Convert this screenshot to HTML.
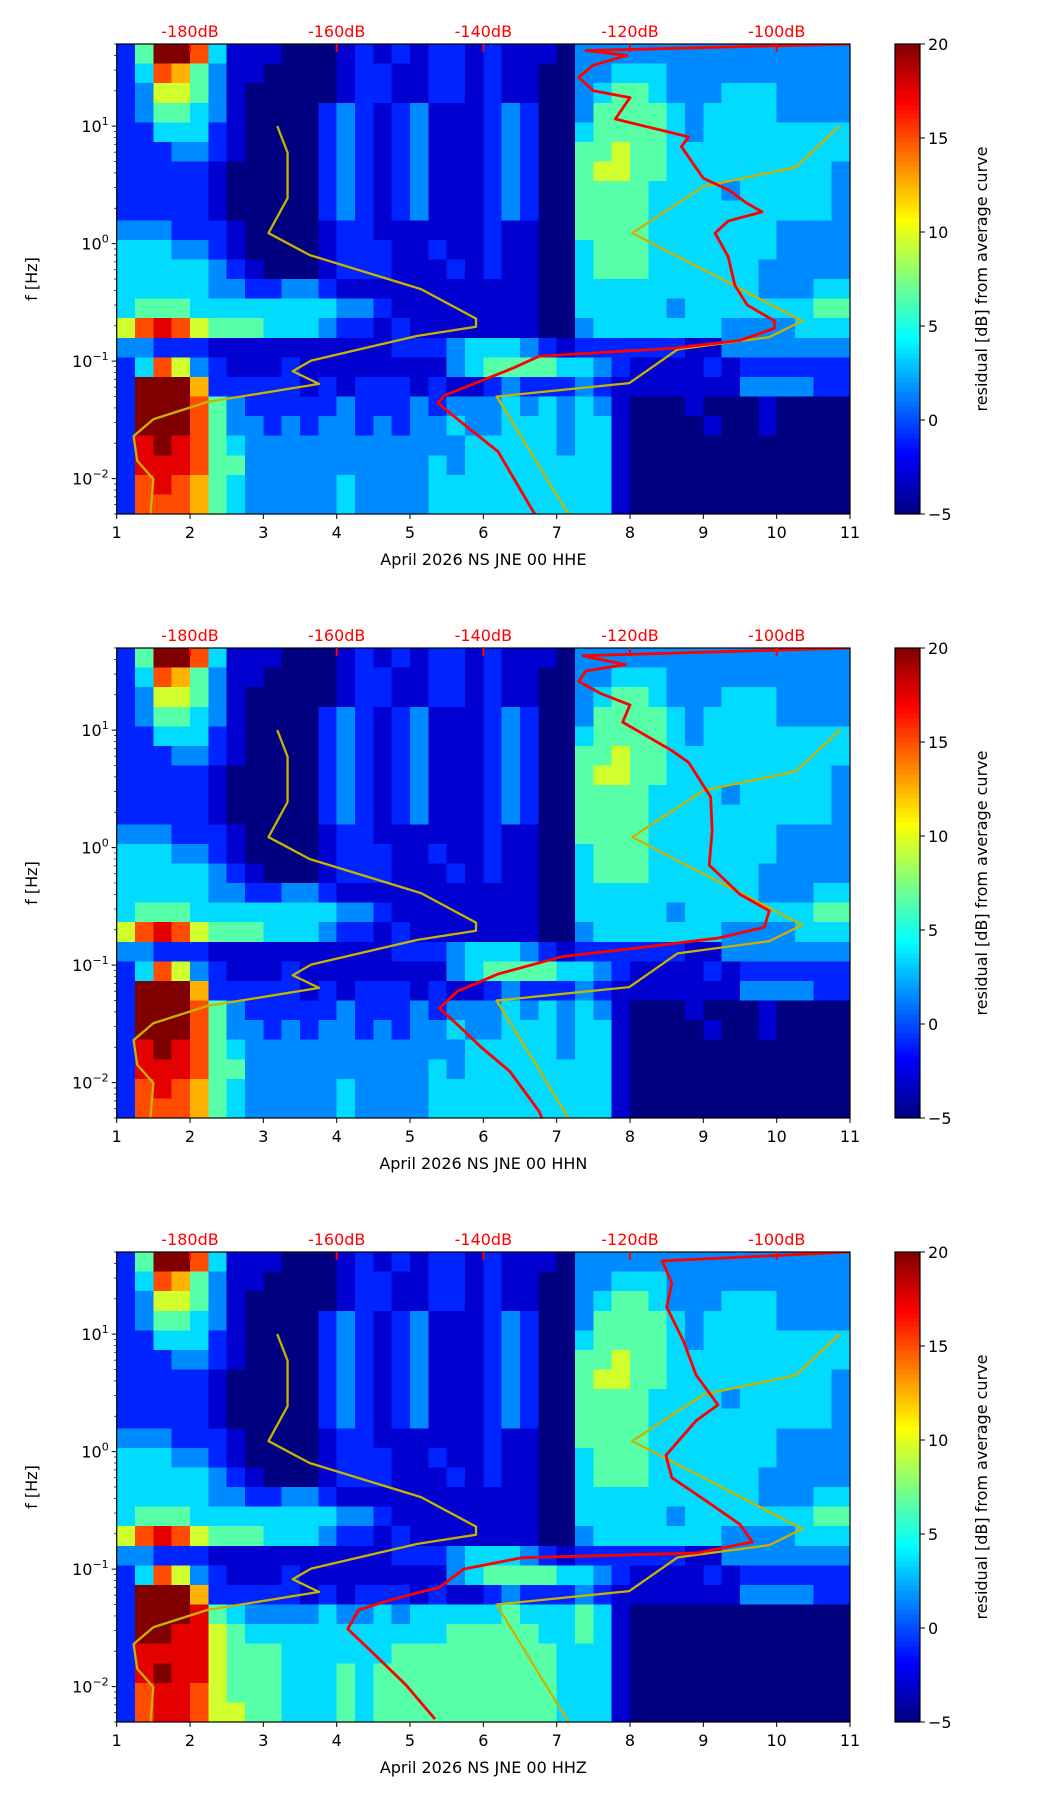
<!DOCTYPE html>
<html><head><meta charset="utf-8">
<style>
html,body{margin:0;padding:0;background:#fff;}
svg{display:block;font-family:"DejaVu Sans","Liberation Sans",sans-serif;}
</style></head>
<body>
<svg id="fig" width="1052" height="1806" viewBox="0 0 1052 1806" xmlns="http://www.w3.org/2000/svg"></svg>
<script>
// ---------- data ----------
const panelTitles = ["April 2026 NS JNE 00 HHE","April 2026 NS JNE 00 HHN","April 2026 NS JNE 00 HHZ"];
const xTicks = [1,2,3,4,5,6,7,8,9,10,11];
const topTickPos = [2,4,6,8,10];
const topTickLabels = ["-180dB","-160dB","-140dB","-120dB","-100dB"];
const yTickExp = [1,0,-1,-2];
const cbTicks = [-5,0,5,10,15,20];
// residual value (dB) for each level character 0..A
const levelValues = [-5,-3,-1,1.5,3.5,6.5,9.5,12.5,15,17.5,20];
// heatmap grid: 24 rows (top=50Hz down to 0.005Hz, 1/6 decade each), 40 cols (x 1..11 step 0.25)
const gridRows = [
"25AA84111"+"0001212122121110"+"333333333333333",
"248753110"+"0001221122121100"+"334443333333333",
"236653100"+"0001221122121100"+"345543334443333",
"235543100"+"0023212311123200"+"355554344443333",
"224442100"+"0023212311123200"+"455554344444444",
"222332100"+"0023212311123200"+"556554444444444",
"222221000"+"0023212311123200"+"566554444444443",
"222221000"+"0023212311123200"+"555544443444443",
"222221000"+"0023212311123200"+"555544444444443",
"333222100"+"0012211111121100"+"555544444443333",
"444332100"+"0012221121121100"+"455544444443333",
"444443210"+"0012221112121100"+"455544444433333",
"444443322"+"3321111111111100"+"444444444433344",
"455544444"+"4443321111111100"+"444443444444455",
"689865554"+"4432212111111100"+"344444443333444",
"332221111"+"1111112223444321"+"222222113333333",
"248632111"+"2111111113455554"+"432111121222222",
"2AAA72222"+"2121222121123222"+"321111111333322",
"2AAA85322"+"2223222323334343"+"431000100010000",
"2AAA85332"+"3233232334334443"+"441000010010000",
"29A985433"+"3333333333444443"+"441000000000000",
"299985533"+"3333333343444444"+"441000000000000",
"289875433"+"3334333344444444"+"441000000000000",
"288875433"+"3334333344444444"+"441000000000000"];
const gridRowsZLow = [
"2AAA95433"+"3343343444445444"+"541000000000000",
"2AA996544"+"4444444445555544"+"541000000000000",
"299996555"+"4444445555555554"+"441000000000000",
"29A996555"+"4445455555555554"+"441000000000000",
"289986555"+"4445455555555554"+"441000000000000",
"289986655"+"4445455555555554"+"441000000000000"];
// red PSD curves: [freq Hz], [x position in top-axis units]
const red1F = [50,44,40,33,26,20,17.5,11.5,8.1,6.7,3.6,2.85,2.26,1.86,1.56,1.23,0.77,0.44,0.30,0.22,0.19,0.15,0.129,0.11,0.087,0.051,0.044,0.032,0.017,0.005];
const red1X = [11,7.4,7.96,7.5,7.3,7.5,8.0,7.8,8.8,8.7,9.0,9.35,9.57,9.8,9.34,9.16,9.34,9.43,9.6,9.97,9.97,9.5,8.6,6.76,6.4,5.47,5.38,5.65,6.2,6.7];
const red2F = [50,43,36,32,26,20.5,16.4,11.7,6.7,5.3,2.7,1.39,0.71,0.4,0.29,0.21,0.17,0.14,0.118,0.084,0.06,0.043,0.031,0.02,0.0125,0.0057,0.005];
const red2X = [11,7.36,7.94,7.4,7.3,7.6,8.0,7.9,8.57,8.8,9.1,9.12,9.08,9.5,9.9,9.83,9.2,8.1,7.07,6.2,5.65,5.4,5.65,5.97,6.36,6.76,6.8];
const red3F = [50,42,27,17,8.7,4.5,2.5,1.83,0.93,0.6,0.38,0.24,0.17,0.137,0.125,0.1,0.07,0.056,0.045,0.031,0.02,0.0104,0.0053];
const red3X = [11,8.44,8.57,8.5,8.73,8.9,9.2,8.9,8.49,8.57,9.04,9.5,9.67,8.9,6.52,5.73,5.4,4.79,4.3,4.15,4.47,4.94,5.34];
// yellow noise-model curves
const lowF = [10,5.95,2.44,1.23,0.80,0.41,0.23,0.196,0.164,0.101,0.082,0.064,0.045,0.032,0.023,0.0142,0.0099,0.005];
const lowX = [3.19,3.33,3.33,3.07,3.63,5.15,5.9,5.9,5.1,3.65,3.4,3.76,2.24,1.5,1.23,1.28,1.5,1.46];
const highF = [10,4.47,3.06,1.23,0.22,0.16,0.126,0.065,0.05,0.005];
const highX = [10.86,10.26,9.0,8.03,10.35,9.9,8.65,7.99,6.18,7.16];

// ---------- layout ----------
const NS="http://www.w3.org/2000/svg";
const svg=document.getElementById('fig');
const AX_L=116.7, AX_R=850, AX_H=470;
const TOPS=[44,648,1252];
const CB_L=895, CB_W=25;
const FMIN=0.005, FMAX=50;
function el(tag,attrs,parent){const e=document.createElementNS(NS,tag);for(const k in attrs)e.setAttribute(k,attrs[k]);(parent||svg).appendChild(e);return e;}
function jet(v){ // v in -5..20
  let t=(v+5)/25; t=Math.max(0,Math.min(1,t));
  const f=x=>Math.max(0,Math.min(1,x));
  const r=f(1.5-Math.abs(4*t-3)), g=f(1.5-Math.abs(4*t-2)), b=f(1.5-Math.abs(4*t-1));
  return `rgb(${Math.round(r*255)},${Math.round(g*255)},${Math.round(b*255)})`;
}
function lvl(c){return levelValues[parseInt(c,16)];}

TOPS.forEach((top,pi)=>{
  const g=el('g',{});
  
  
  const sx=x=>AX_L+(x-1)/10*(AX_R-AX_L);
  const sy=f=>top+(Math.log10(FMAX)-Math.log10(f))/(Math.log10(FMAX)-Math.log10(FMIN))*AX_H;
  const hm=el('g',{'shape-rendering':'crispEdges'},g);
  
  
  const rows=gridRows.slice();
  if(pi===2){for(let i=0;i<gridRowsZLow.length;i++)rows[18+i]=gridRowsZLow[i];}
  const nR=rows.length, nC=rows[0].length;
  const lmax=Math.log10(FMAX), step=(lmax-Math.log10(FMIN))/nR;
  rows.forEach((row,ri)=>{
    const y0=sy(Math.pow(10,lmax-ri*step)), y1=sy(Math.pow(10,lmax-(ri+1)*step));
    for(let ci=0;ci<nC;ci++){
      const x0=sx(1+ci*0.25), x1=sx(1+(ci+1)*0.25);
      const r=el('rect',{x:x0,y:y0,width:x1-x0+0.5,height:y1-y0+0.5,fill:jet(lvl(row[ci]))},hm);
      
      
    }
  });
  const clip=el('clipPath',{id:'clip'+pi},g);
  el('rect',{x:AX_L,y:top,width:AX_R-AX_L,height:AX_H},clip);
  const lines=el('g',{'clip-path':`url(#clip${pi})`},g);
  function poly(F,X,color,w,name){
    const p=el('polyline',{points:F.map((f,i)=>sx(X[i])+','+sy(f)).join(' '),fill:'none',stroke:color,'stroke-width':w,'stroke-linejoin':'round'},lines);
    
    
  }
  poly(lowF,lowX,'#c8b400',2.3,'low-noise-model-line');
  poly(highF,highX,'#c8b400',2.3,'high-noise-model-line');
  const rf=[red1F,red2F,red3F][pi], rx=[red1X,red2X,red3X][pi];
  poly(rf,rx,'#ff0000',2.8,'psd-curve');
  el('rect',{x:AX_L,y:top,width:AX_R-AX_L,height:AX_H,fill:'none',stroke:'#000','stroke-width':1.2},g);
  xTicks.forEach(t=>{
    el('line',{x1:sx(t),x2:sx(t),y1:top+AX_H,y2:top+AX_H+5,stroke:'#000','stroke-width':1},g);
    const tx=el('text',{x:sx(t),y:top+AX_H+24,'font-size':16,'text-anchor':'middle'},g);
    tx.textContent=t;
    
    
  });
  const xl=el('text',{x:(AX_L+AX_R)/2,y:top+AX_H+51,'font-size':16,'text-anchor':'middle'},g);
  xl.textContent=panelTitles[pi];
  
  
  topTickPos.forEach((t,i)=>{
    el('line',{x1:sx(t),x2:sx(t),y1:top,y2:top+8,stroke:'#ff0000','stroke-width':2},g);
    const tt=el('text',{x:sx(t),y:top-7,'font-size':16,'text-anchor':'middle',fill:'#ff0000'},g);
    tt.textContent=topTickLabels[i];
    
    
  });
  for(let e=-3;e<=1;e++){for(let m=1;m<=9;m++){const f=m*Math.pow(10,e);if(f<FMIN||f>FMAX)continue;
    const y=sy(f);el('line',{x1:AX_L-(m===1?5:2.5),x2:AX_L,y1:y,y2:y,stroke:'#000','stroke-width':m===1?1:0.8},g);}}
  yTickExp.forEach(ex=>{
    const y=sy(Math.pow(10,ex));
    const t=el('text',{x:AX_L-8,y:y+6,'font-size':16,'text-anchor':'end'},g);
    
    
    t.appendChild(document.createTextNode('10'));
    const s=el('tspan',{dy:-7,'font-size':11},t);
    s.textContent=ex<0?('\u2212'+(-ex)):String(ex);
  });
  const yl=el('text',{transform:`translate(37,${top+AX_H/2}) rotate(-90)`,'font-size':16,'text-anchor':'middle'},g);
  yl.textContent='f [Hz]';
  
  
  const cb=el('g',{},g);
  
  
  const n=100;
  for(let i=0;i<n;i++){
    const v=20-25*(i+0.5)/n;
    el('rect',{x:CB_L,y:top+i*AX_H/n,width:CB_W,height:AX_H/n+0.6,fill:jet(v),'shape-rendering':'crispEdges'},cb);
  }
  el('rect',{x:CB_L,y:top,width:CB_W,height:AX_H,fill:'none',stroke:'#000','stroke-width':1.2},cb);
  cbTicks.forEach(t=>{
    const y=top+(20-t)/25*AX_H;
    el('line',{x1:CB_L+CB_W,x2:CB_L+CB_W+5,y1:y,y2:y,stroke:'#000'},cb);
    const tx=el('text',{x:CB_L+CB_W+8,y:y+6,'font-size':16},cb);
    tx.textContent=t<0?'\u2212'+(-t):t;
    
    
  });
  const cl=el('text',{transform:`translate(987,${top+AX_H/2}) rotate(-90)`,'font-size':16,'text-anchor':'middle'},cb);
  cl.textContent='residual [dB] from average curve';
  
  
});
</script>
</body></html>
